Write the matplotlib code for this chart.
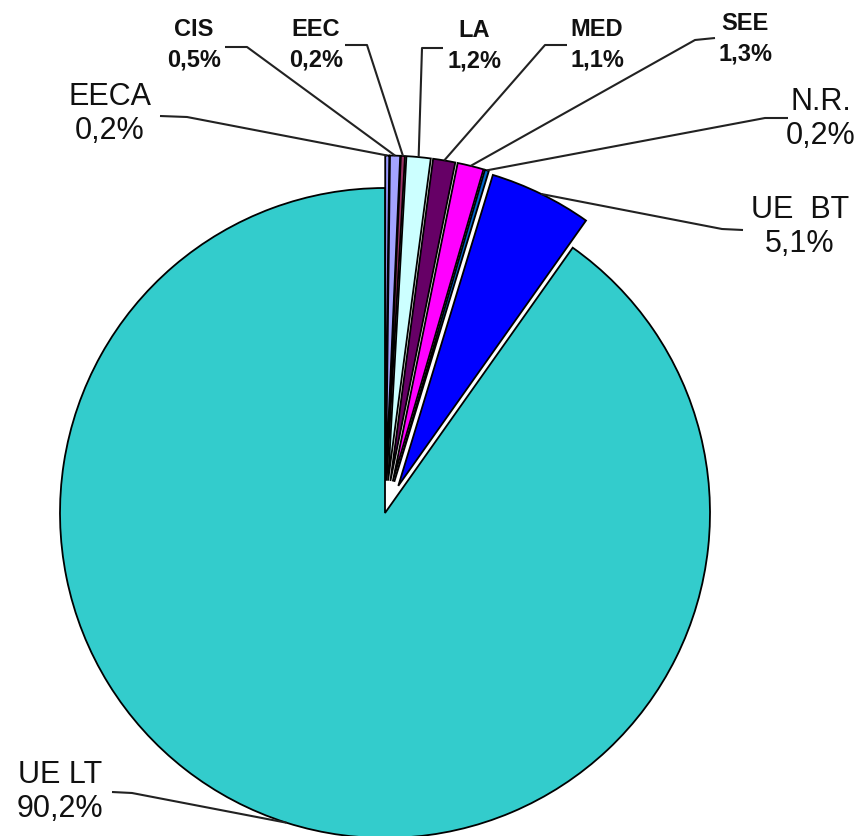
import matplotlib
matplotlib.use("Agg")
import matplotlib.pyplot as plt
import numpy as np

labels = ["EECA", "CIS", "EEC", "LA", "MED", "SEE", "N.R.", "UE  BT", "UE LT"]
values = [0.2, 0.5, 0.2, 1.2, 1.1, 1.3, 0.2, 5.1, 90.2]
pct_text = ["0,2%", "0,5%", "0,2%", "1,2%", "1,1%", "1,3%", "0,2%", "5,1%", "90,2%"]
colors = ["#9999FF", "#A3A3FF", "#993366", "#CCFFFF", "#660066",
          "#FF00FF", "#0066CC", "#0000FF", "#33CCCC"]
explode = [0.1, 0.1, 0.1, 0.1, 0.1, 0.1, 0.1, 0.093, 0.0]
big = [True, False, False, False, False, False, True, True, True]

# layout in pixels: pie centre and radius, label centres, leader elbows
W, H = 858, 836
CX, CY, R = 385, 513, 325
text_pos = [(110, 114), (194, 45), (316, 45), (474, 46), (597, 45),
            (745, 39), (821, 119), (800, 227), (60, 792)]
lead_start = [(160, 116), (225, 47), (345, 45), (443, 48), (567, 45),
              (715, 38), (788, 118), (743, 230), (112, 792)]
lead_elbow = [(187, 117), (247, 47), (367, 45), (422, 48), (545, 45),
              (695, 40), (765, 118), (722, 229), (132, 793)]


def px(x, y):
    return (x - CX) / R, (CY - y) / R


fig = plt.figure(figsize=(W / 100, H / 100), dpi=100)
ax = fig.add_axes([0, 0, 1, 1])

wedges, _ = ax.pie(values, colors=colors, explode=explode, startangle=90,
                   counterclock=False, radius=1.0,
                   wedgeprops=dict(edgecolor="black", linewidth=1.3))

ax.set_xlim(-CX / R, (W - CX) / R)
ax.set_ylim(-(H - CY) / R, CY / R)
ax.set_aspect("auto")
ax.axis("off")

for i, w in enumerate(wedges):
    mid = np.deg2rad((w.theta1 + w.theta2) / 2)
    cx, cy = w.center
    ax_ = cx + w.r * np.cos(mid)
    ay_ = cy + w.r * np.sin(mid)
    s = px(*lead_start[i])
    e = px(*lead_elbow[i])
    ax.plot([s[0], e[0], ax_], [s[1], e[1], ay_], color="#222222", lw=1.5,
            solid_capstyle="butt", zorder=3)
    tx, ty = px(*text_pos[i])
    if big[i]:
        ax.text(tx, ty, labels[i] + "\n" + pct_text[i], ha="center", va="center",
                fontsize=22, family=["Liberation Sans", "DejaVu Sans"],
                linespacing=1.15, color="#111111")
    else:
        ax.text(tx, ty, labels[i] + "\n" + pct_text[i], ha="center", va="center",
                fontsize=17, fontweight="bold",
                family=["Liberation Sans", "DejaVu Sans"],
                linespacing=1.4, color="#111111")

fig.savefig("out.png", dpi=100, facecolor="white")
